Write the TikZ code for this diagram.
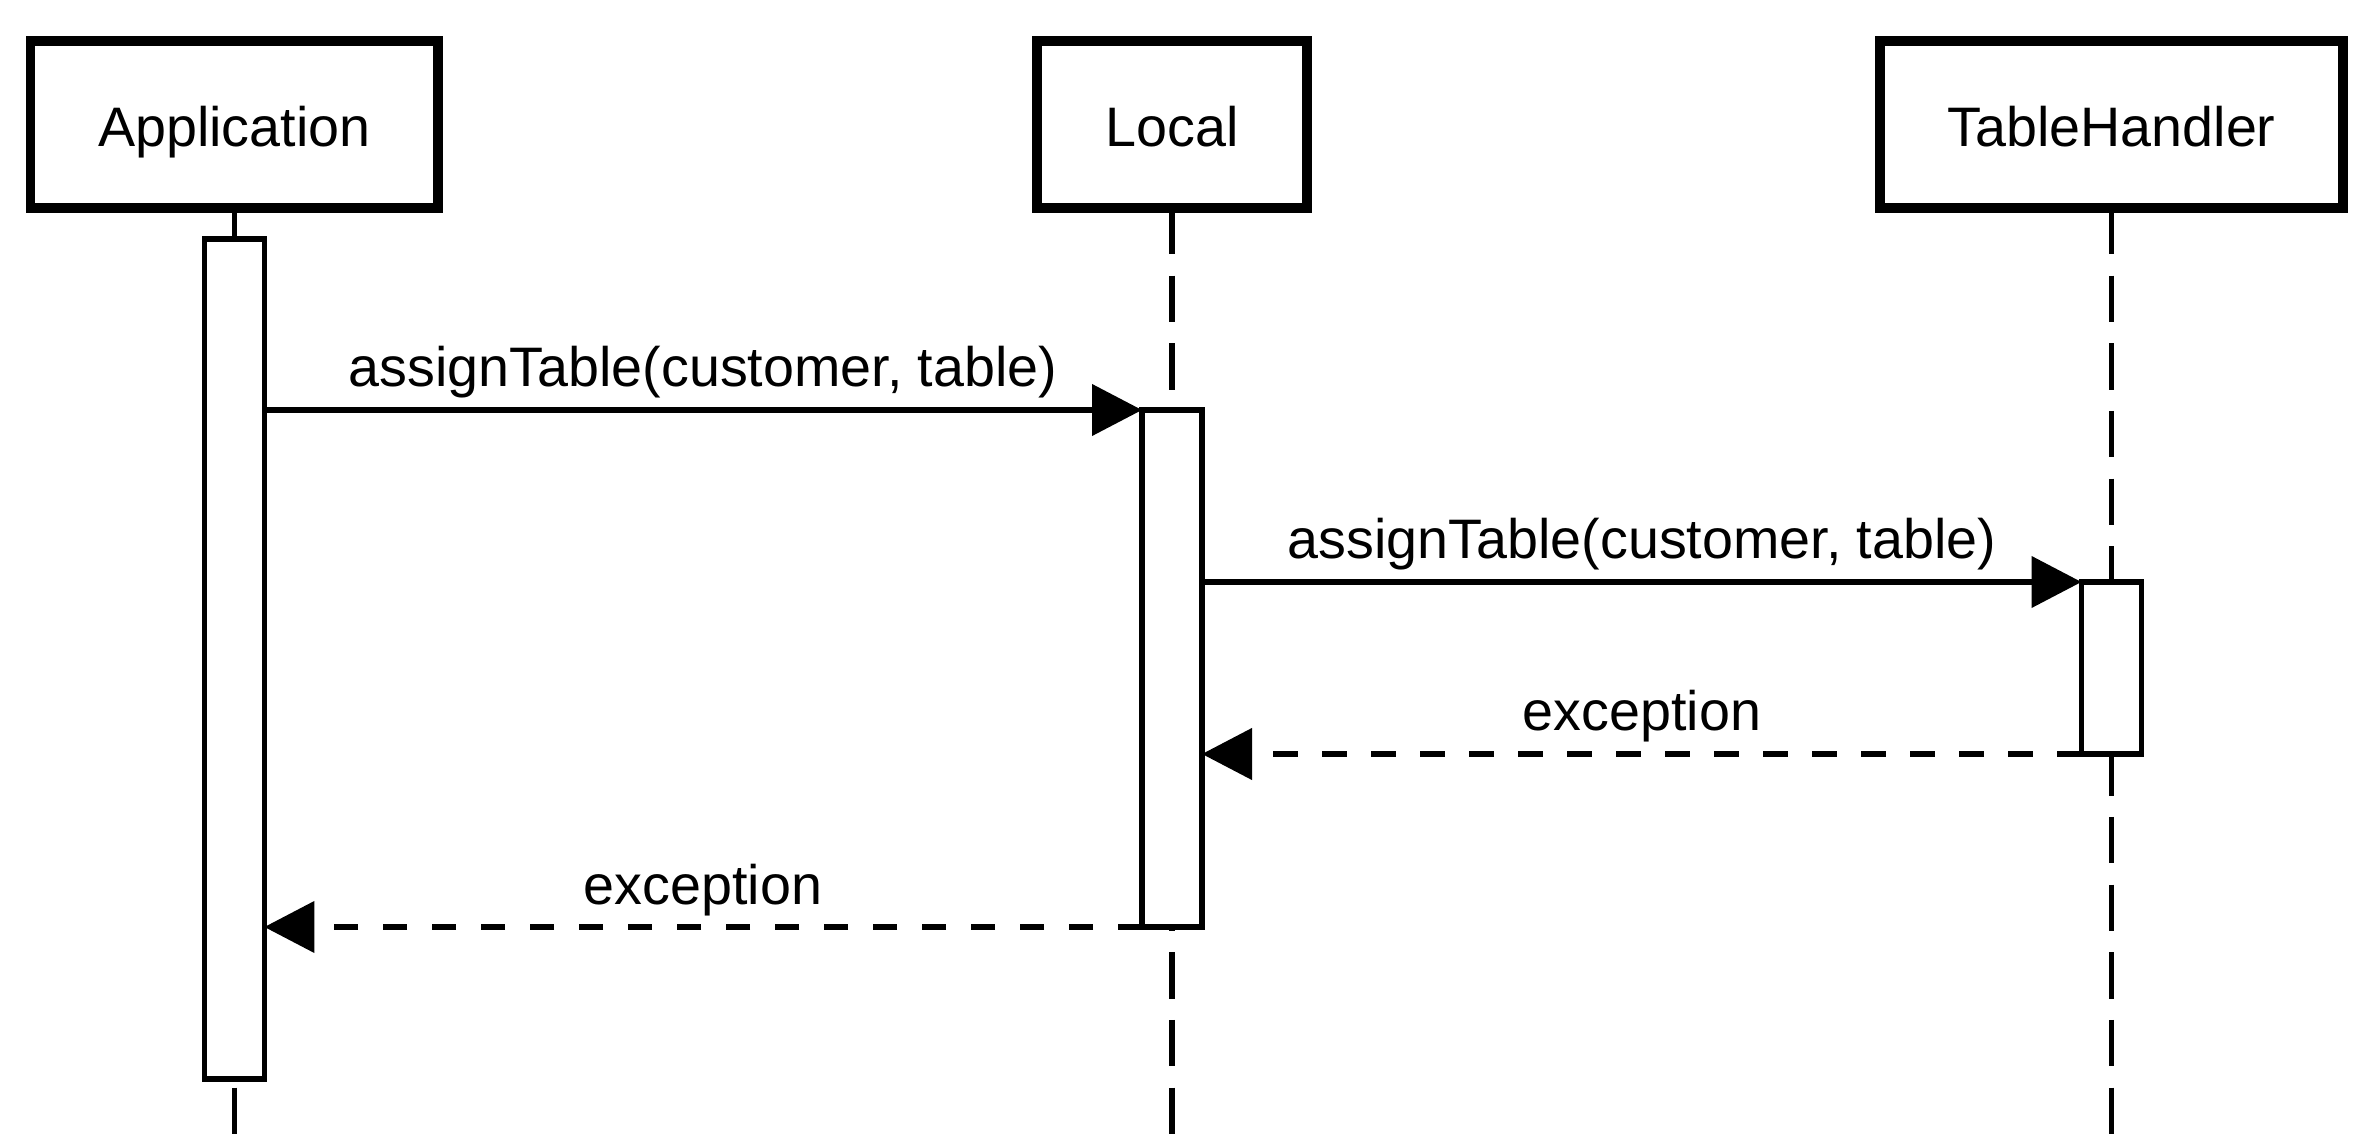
\documentclass[tikz,border=0pt]{standalone}
\usepackage{fontspec}
\setmainfont{Liberation Sans}
\usetikzlibrary{arrows.meta,calc}
\begin{document}
\begin{tikzpicture}[x=0.3pt,y=-0.3pt,
  font=\fontsize{16.7pt}{19pt}\selectfont,
  head/.style={draw, line width=2.85pt, minimum height=50.1pt, inner sep=0pt, outer sep=0pt, text height=13.3pt, text depth=0pt},
  act/.style={draw, fill=white, line width=1.65pt, minimum width=18pt, inner sep=0pt, outer sep=0pt},
  life/.style={line width=1.65pt, dash pattern=on 13.9pt off 6.4pt},
  msg/.style={line width=1.65pt, -{Triangle[length=15pt,width=15.2pt]}},
  ret/.style={msg, dash pattern=on 7.3pt off 7.4pt},
  lbl/.style={anchor=base, inner sep=0pt}]
\useasboundingbox (0,0) rectangle (2374,1143);
% heads
\node[head, minimum width=122.2pt] (app) at (234.4,124.5) {Application};
\node[head, minimum width=81pt] (loc) at (1172,124.5) {Local};
\node[head, minimum width=138.9pt] (th) at (2111.5,124.5) {TableHandler};
% lifeline ends
\coordinate (appE) at (234.4,1136);
\coordinate (locE) at (1172,1136);
\coordinate (thE) at (2111.5,1136);
\draw[life] (app.south) -- (appE);
\draw[life] (loc.south) -- (locE);
\draw[life] (th.south) -- (thE);
% activations
\node[act, minimum height=252pt] (actA) at (234.4,659) {};
\node[act, minimum height=155.1pt] (actL) at (1172,668.5) {};
\node[act, minimum height=51.6pt] (actT) at (2111.5,668) {};
% messages
\draw[msg] (actA.east |- actL.north) -- (actL.north west);
\draw[msg] (actL.east |- actT.north) -- (actT.north west);
\draw[ret] (actT.south west) -- (actL.east |- actT.south);
\draw[ret] (actL.south west) -- (actA.east |- actL.south);
% labels
\node[lbl] (m1) at (703,387) {assignTable(customer, table)};
\node[lbl] (m2) at (1642,559) {assignTable(customer, table)};
\node[lbl] (r1) at (1642,731) {exception};
\node[lbl] (r2) at (703,904) {exception};
\end{tikzpicture}
\end{document}
